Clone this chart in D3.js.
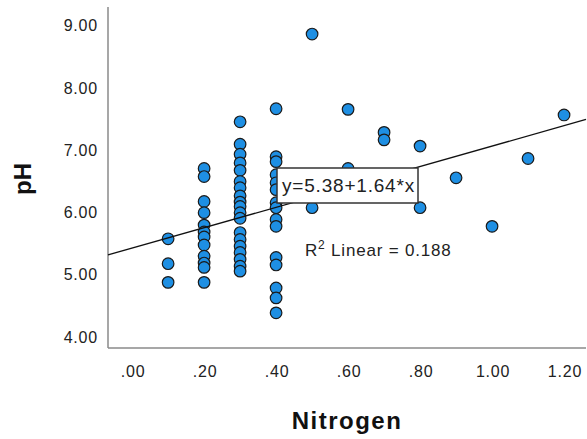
<!DOCTYPE html>
<html><head><meta charset="utf-8">
<script src="https://cdn.jsdelivr.net/npm/d3@7"></script>
<style>body{margin:0;background:#fff}svg{display:block}</style>
</head><body>
<svg id="c" width="587" height="439"></svg>
<script>
const nitrogen = [0.1,0.1,0.1,
  0.2,0.2,0.2,0.2,0.2,0.2,0.2,0.2,0.2,0.2,0.2,0.2,
  0.3,0.3,0.3,0.3,0.3,0.3,0.3,0.3,0.3,0.3,0.3,0.3,0.3,0.3,0.3,0.3,0.3,0.3,0.3,
  0.4,0.4,0.4,0.4,0.4,0.4,0.4,0.4,0.4,0.4,0.4,0.4,0.4,0.4,0.4,
  0.5,0.5,0.6,0.6,0.7,0.7,0.8,0.8,0.9,1.0,1.1,1.2];
const pH = [5.53,5.13,4.83,
  6.66,6.53,6.13,5.95,5.75,5.64,5.56,5.43,5.25,5.14,5.07,4.83,
  7.41,7.05,6.89,6.75,6.63,6.45,6.35,6.22,6.12,6.05,5.95,5.86,5.63,5.52,5.41,5.31,5.2,5.09,5.01,
  7.62,6.85,6.77,6.56,6.43,6.32,6.11,6.03,5.84,5.73,5.23,5.11,4.74,4.58,4.34,
  8.82,6.03,7.61,6.66,7.24,7.12,7.02,6.03,6.51,5.73,6.82,7.52];
const xTicks = [0,0.2,0.4,0.6,0.8,1.0,1.2];
const yTicks = [4,5,6,7,8,9];
const fitIntercept = 5.38, fitSlope = 1.64, r2 = 0.188;

const svg = d3.select("#c");
const L=108, R=586, T=7, B=348;
const x = d3.scaleLinear().domain([-0.067,1.261]).range([L,R]);
const y = d3.scaleLinear().domain([3.775,9.255]).range([B,T]);
const font = "'Liberation Sans', Arial, sans-serif";

// axes
svg.append("line").attr("x1",L).attr("x2",L).attr("y1",T).attr("y2",B)
  .attr("stroke","#8a8a8a").attr("stroke-width",1.5);
svg.append("line").attr("x1",L).attr("x2",R).attr("y1",B).attr("y2",B)
  .attr("stroke","#8a8a8a").attr("stroke-width",1.5);

const fmt = v => { const s = v.toFixed(2); return v < 1 ? s.replace(/^0/,"") : s; };
svg.append("g").selectAll("text").data(yTicks).join("text")
  .attr("x",98).attr("y",d=>y(d)+3).attr("dy","0.35em")
  .attr("text-anchor","end").attr("font-family",font).attr("font-size",16)
  .attr("letter-spacing","0.8px").attr("fill","#222").text(fmt);
svg.append("g").selectAll("text").data(xTicks).join("text")
  .attr("x",d=>x(d)+1).attr("y",377)
  .attr("text-anchor","middle").attr("font-family",font).attr("font-size",16)
  .attr("letter-spacing","0.8px").attr("fill","#222").text(fmt);

// titles
svg.append("text").attr("transform","translate(31,179) rotate(-90)")
  .attr("text-anchor","middle").attr("font-family",font).attr("font-weight","bold")
  .attr("font-size",24).attr("fill","#111").text("pH");
svg.append("text").attr("x",347).attr("y",429)
  .attr("text-anchor","middle").attr("font-family",font).attr("font-weight","bold")
  .attr("font-size",24).attr("letter-spacing","1.5px").attr("fill","#111").text("Nitrogen");

// points
const pts = nitrogen.map((n,i)=>({n, p:pH[i]}));
svg.append("g").selectAll("circle").data(pts).join("circle")
  .attr("cx",d=>x(d.n)).attr("cy",d=>y(d.p)).attr("r",5.8)
  .attr("fill","#1e8fe3").attr("stroke","#1a1a1a").attr("stroke-width",1.2);

// fit line
const xd = x.domain();
svg.append("line")
  .attr("x1",x(xd[0])).attr("y1",y(fitIntercept+fitSlope*xd[0]))
  .attr("x2",x(xd[1])).attr("y2",y(fitIntercept+fitSlope*xd[1]))
  .attr("stroke","#111").attr("stroke-width",1.3);

// equation box
svg.append("rect").attr("x",277).attr("y",168).attr("width",141).attr("height",35)
  .attr("fill","#fff").attr("stroke","#333").attr("stroke-width",1.5);
svg.append("text").attr("x",348.5).attr("y",192).attr("text-anchor","middle")
  .attr("font-family",font).attr("font-size",19).attr("letter-spacing","0.8px").attr("fill","#222")
  .text(`y=${fitIntercept.toFixed(2)}+${fitSlope.toFixed(2)}*x`);

// R2 label
const rt = svg.append("text").attr("x",305).attr("y",256)
  .attr("font-family",font).attr("font-size",17).attr("letter-spacing","0.8px").attr("fill","#222");
rt.append("tspan").text("R");
rt.append("tspan").attr("font-size",12).attr("dy",-7).text("2");
rt.append("tspan").attr("dy",7).text(` Linear = ${r2.toFixed(3)}`);
</script>
</body></html>
